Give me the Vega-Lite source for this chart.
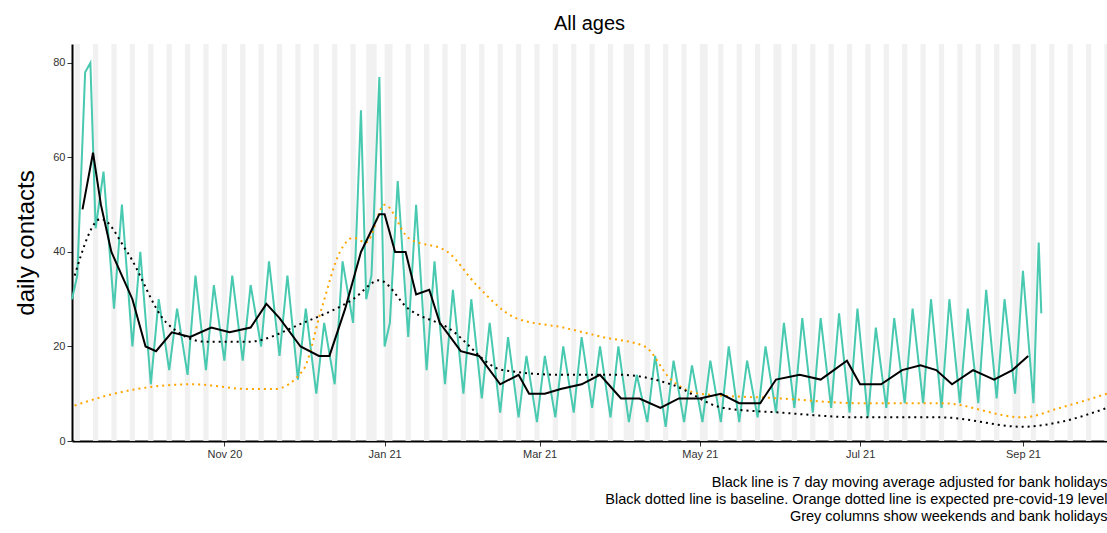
{
"$schema": "https://vega.github.io/schema/vega-lite/v6.json",
"width": 1035, "height": 397,
"autosize": "none",
"padding": {"left": 72, "top": 44, "right": 0, "bottom": 92},
"background": "white",
"title": {"text": "All ages", "fontSize": 20, "fontWeight": "normal", "font": "Liberation Sans", "color": "black", "offset": 10},
"config": {"view": {"stroke": null}, "font": "Liberation Sans"},
"datasets": {
"shade": [
{"s":"2020-09-05","e":"2020-09-07"},{"s":"2020-09-12","e":"2020-09-14"},{"s":"2020-09-19","e":"2020-09-21"},{"s":"2020-09-26","e":"2020-09-28"},
{"s":"2020-10-03","e":"2020-10-05"},{"s":"2020-10-10","e":"2020-10-12"},{"s":"2020-10-17","e":"2020-10-19"},{"s":"2020-10-24","e":"2020-10-26"},{"s":"2020-10-31","e":"2020-11-02"},
{"s":"2020-11-07","e":"2020-11-09"},{"s":"2020-11-14","e":"2020-11-16"},{"s":"2020-11-21","e":"2020-11-23"},{"s":"2020-11-28","e":"2020-11-30"},
{"s":"2020-12-05","e":"2020-12-07"},{"s":"2020-12-12","e":"2020-12-14"},{"s":"2020-12-19","e":"2020-12-21"},{"s":"2020-12-25","e":"2020-12-29"},
{"s":"2021-01-01","e":"2021-01-04"},{"s":"2021-01-09","e":"2021-01-11"},{"s":"2021-01-16","e":"2021-01-18"},{"s":"2021-01-23","e":"2021-01-25"},{"s":"2021-01-30","e":"2021-02-01"},
{"s":"2021-02-06","e":"2021-02-08"},{"s":"2021-02-13","e":"2021-02-15"},{"s":"2021-02-20","e":"2021-02-22"},{"s":"2021-02-27","e":"2021-03-01"},
{"s":"2021-03-06","e":"2021-03-08"},{"s":"2021-03-13","e":"2021-03-15"},{"s":"2021-03-20","e":"2021-03-22"},{"s":"2021-03-27","e":"2021-03-29"},
{"s":"2021-04-02","e":"2021-04-06"},{"s":"2021-04-10","e":"2021-04-12"},{"s":"2021-04-17","e":"2021-04-19"},{"s":"2021-04-24","e":"2021-04-26"},
{"s":"2021-05-01","e":"2021-05-04"},{"s":"2021-05-08","e":"2021-05-10"},{"s":"2021-05-15","e":"2021-05-17"},{"s":"2021-05-22","e":"2021-05-24"},{"s":"2021-05-29","e":"2021-06-01"},
{"s":"2021-06-05","e":"2021-06-07"},{"s":"2021-06-12","e":"2021-06-14"},{"s":"2021-06-19","e":"2021-06-21"},{"s":"2021-06-26","e":"2021-06-28"},
{"s":"2021-07-03","e":"2021-07-05"},{"s":"2021-07-10","e":"2021-07-12"},{"s":"2021-07-17","e":"2021-07-19"},{"s":"2021-07-24","e":"2021-07-26"},{"s":"2021-07-31","e":"2021-08-02"},
{"s":"2021-08-07","e":"2021-08-09"},{"s":"2021-08-14","e":"2021-08-16"},{"s":"2021-08-21","e":"2021-08-23"},{"s":"2021-08-28","e":"2021-08-31"},
{"s":"2021-09-04","e":"2021-09-06"},{"s":"2021-09-11","e":"2021-09-13"},{"s":"2021-09-18","e":"2021-09-20"},{"s":"2021-09-25","e":"2021-09-27"},{"s":"2021-10-02","e":"2021-10-03"}
],
"daily": [
{"d":"2020-09-04","v":30},{"d":"2020-09-06","v":35},{"d":"2020-09-09","v":78},{"d":"2020-09-11","v":80},
{"d":"2020-09-13","v":45},{"d":"2020-09-16","v":57},{"d":"2020-09-20","v":28},{"d":"2020-09-23","v":50},
{"d":"2020-09-27","v":20},{"d":"2020-09-30","v":40},{"d":"2020-10-04","v":12},{"d":"2020-10-07","v":30},
{"d":"2020-10-11","v":15},{"d":"2020-10-14","v":28},{"d":"2020-10-18","v":14},{"d":"2020-10-21","v":35},
{"d":"2020-10-25","v":15},{"d":"2020-10-28","v":33},{"d":"2020-11-01","v":17},{"d":"2020-11-04","v":35},
{"d":"2020-11-08","v":17},{"d":"2020-11-11","v":33},{"d":"2020-11-15","v":20},{"d":"2020-11-18","v":38},
{"d":"2020-11-22","v":18},{"d":"2020-11-25","v":35},{"d":"2020-11-29","v":13},{"d":"2020-12-02","v":28},
{"d":"2020-12-06","v":10},{"d":"2020-12-09","v":25},{"d":"2020-12-13","v":12},{"d":"2020-12-16","v":38},
{"d":"2020-12-20","v":25},{"d":"2020-12-23","v":70},{"d":"2020-12-25","v":30},{"d":"2020-12-27","v":35},
{"d":"2020-12-30","v":77},{"d":"2021-01-01","v":20},{"d":"2021-01-03","v":25},{"d":"2021-01-06","v":55},
{"d":"2021-01-10","v":22},{"d":"2021-01-13","v":50},{"d":"2021-01-17","v":15},{"d":"2021-01-20","v":38},
{"d":"2021-01-24","v":12},{"d":"2021-01-27","v":32},{"d":"2021-01-31","v":10},{"d":"2021-02-03","v":30},
{"d":"2021-02-07","v":9},{"d":"2021-02-10","v":25},{"d":"2021-02-14","v":6},{"d":"2021-02-17","v":22},
{"d":"2021-02-21","v":5},{"d":"2021-02-24","v":18},{"d":"2021-02-28","v":4},{"d":"2021-03-03","v":18},
{"d":"2021-03-07","v":5},{"d":"2021-03-10","v":20},{"d":"2021-03-14","v":6},{"d":"2021-03-17","v":22},
{"d":"2021-03-21","v":7},{"d":"2021-03-24","v":20},{"d":"2021-03-28","v":5},{"d":"2021-03-31","v":20},
{"d":"2021-04-04","v":4},{"d":"2021-04-07","v":14},{"d":"2021-04-11","v":4},{"d":"2021-04-14","v":18},
{"d":"2021-04-18","v":3},{"d":"2021-04-21","v":17},{"d":"2021-04-25","v":4},{"d":"2021-04-28","v":16},
{"d":"2021-05-02","v":4},{"d":"2021-05-05","v":17},{"d":"2021-05-09","v":4},{"d":"2021-05-12","v":20},
{"d":"2021-05-16","v":4},{"d":"2021-05-19","v":17},{"d":"2021-05-23","v":5},{"d":"2021-05-26","v":20},
{"d":"2021-05-30","v":6},{"d":"2021-06-02","v":25},{"d":"2021-06-06","v":7},{"d":"2021-06-09","v":26},
{"d":"2021-06-13","v":6},{"d":"2021-06-16","v":26},{"d":"2021-06-20","v":7},{"d":"2021-06-23","v":27},
{"d":"2021-06-27","v":6},{"d":"2021-06-30","v":28},{"d":"2021-07-04","v":5},{"d":"2021-07-07","v":24},
{"d":"2021-07-11","v":7},{"d":"2021-07-14","v":26},{"d":"2021-07-18","v":8},{"d":"2021-07-21","v":28},
{"d":"2021-07-25","v":8},{"d":"2021-07-28","v":30},{"d":"2021-08-01","v":7},{"d":"2021-08-04","v":30},
{"d":"2021-08-08","v":8},{"d":"2021-08-11","v":28},{"d":"2021-08-15","v":8},{"d":"2021-08-18","v":32},
{"d":"2021-08-22","v":9},{"d":"2021-08-25","v":30},{"d":"2021-08-29","v":10},{"d":"2021-09-01","v":36},
{"d":"2021-09-05","v":8},{"d":"2021-09-07","v":42},{"d":"2021-09-08","v":27}
],
"avg": [
{"d":"2020-09-08","v":49},{"d":"2020-09-12","v":61},{"d":"2020-09-15","v":50},{"d":"2020-09-19","v":40},
{"d":"2020-09-23","v":35},{"d":"2020-09-27","v":30},{"d":"2020-10-02","v":20},{"d":"2020-10-06","v":19},
{"d":"2020-10-12","v":23},{"d":"2020-10-19","v":22},{"d":"2020-10-27","v":24},{"d":"2020-11-03","v":23},
{"d":"2020-11-11","v":24},{"d":"2020-11-17","v":29},{"d":"2020-11-22","v":26},{"d":"2020-11-30","v":20},
{"d":"2020-12-07","v":18},{"d":"2020-12-11","v":18},{"d":"2020-12-17","v":28},{"d":"2020-12-23","v":40},
{"d":"2020-12-30","v":48},{"d":"2021-01-01","v":48},{"d":"2021-01-05","v":40},{"d":"2021-01-09","v":40},
{"d":"2021-01-13","v":31},{"d":"2021-01-18","v":32},{"d":"2021-01-22","v":25},{"d":"2021-01-30","v":19},
{"d":"2021-02-06","v":18},{"d":"2021-02-14","v":12},{"d":"2021-02-21","v":14},{"d":"2021-02-25","v":10},
{"d":"2021-03-03","v":10},{"d":"2021-03-09","v":11},{"d":"2021-03-17","v":12},{"d":"2021-03-24","v":14},
{"d":"2021-04-01","v":9},{"d":"2021-04-08","v":9},{"d":"2021-04-16","v":7},{"d":"2021-04-23","v":9},
{"d":"2021-05-01","v":9},{"d":"2021-05-09","v":10},{"d":"2021-05-16","v":8},{"d":"2021-05-24","v":8},
{"d":"2021-05-30","v":13},{"d":"2021-06-08","v":14},{"d":"2021-06-16","v":13},{"d":"2021-06-26","v":17},
{"d":"2021-07-01","v":12},{"d":"2021-07-09","v":12},{"d":"2021-07-17","v":15},{"d":"2021-07-24","v":16},
{"d":"2021-07-30","v":15},{"d":"2021-08-05","v":12},{"d":"2021-08-13","v":15},{"d":"2021-08-21","v":13},
{"d":"2021-08-28","v":15},{"d":"2021-09-03","v":18}
],
"base": [
{"d":"2020-09-05","v":35},{"d":"2020-09-15","v":47},{"d":"2020-09-25","v":40},{"d":"2020-10-10","v":25},
{"d":"2020-10-25","v":21},{"d":"2020-11-10","v":21},{"d":"2020-12-01","v":25},{"d":"2020-12-20","v":30},
{"d":"2020-12-30","v":34},{"d":"2021-01-10","v":28},{"d":"2021-01-25","v":24},{"d":"2021-02-15","v":15},
{"d":"2021-03-10","v":14},{"d":"2021-04-01","v":14},{"d":"2021-04-20","v":12},{"d":"2021-05-10","v":7},
{"d":"2021-06-01","v":6},{"d":"2021-07-01","v":5},{"d":"2021-08-01","v":5},{"d":"2021-09-01","v":3},
{"d":"2021-09-15","v":4},{"d":"2021-10-03","v":7}
],
"pre": [
{"d":"2020-09-05","v":7.5},{"d":"2020-09-20","v":10},{"d":"2020-10-20","v":12},{"d":"2020-11-10","v":11},
{"d":"2020-11-20","v":11},{"d":"2020-12-01","v":15},{"d":"2020-12-08","v":28},{"d":"2020-12-15","v":40},
{"d":"2020-12-20","v":43},{"d":"2020-12-25","v":42},{"d":"2021-01-01","v":50},{"d":"2021-01-10","v":43},
{"d":"2021-01-25","v":40},{"d":"2021-02-05","v":33},{"d":"2021-02-20","v":26},{"d":"2021-03-10","v":24},
{"d":"2021-03-25","v":22},{"d":"2021-04-10","v":20},{"d":"2021-04-20","v":13},{"d":"2021-05-01","v":10},
{"d":"2021-06-01","v":9},{"d":"2021-07-01","v":8},{"d":"2021-08-01","v":8},{"d":"2021-09-01","v":5},
{"d":"2021-09-15","v":7},{"d":"2021-10-03","v":10}
]
},
"layer": [
{"data": {"name": "shade"}, "mark": {"type": "rect", "color": "#f0f0f0", "opacity": 0.9},
 "encoding": {"x": {"field": "s", "type": "temporal"}, "x2": {"field": "e"}}},
{"data": {"name": "daily"}, "mark": {"type": "line", "color": "#48c9b0", "strokeWidth": 2},
 "encoding": {"x": {"field": "d", "type": "temporal"}, "y": {"field": "v", "type": "quantitative"}}},
{"data": {"name": "pre"}, "mark": {"type": "line", "color": "orange", "strokeWidth": 2, "strokeDash": [2, 4], "interpolate": "monotone"},
 "encoding": {"x": {"field": "d", "type": "temporal"}, "y": {"field": "v", "type": "quantitative"}}},
{"data": {"name": "base"}, "mark": {"type": "line", "color": "black", "strokeWidth": 2, "strokeDash": [2, 4], "interpolate": "monotone"},
 "encoding": {"x": {"field": "d", "type": "temporal"}, "y": {"field": "v", "type": "quantitative"}}},
{"data": {"name": "avg"}, "mark": {"type": "line", "color": "black", "strokeWidth": 2},
 "encoding": {
  "x": {"field": "d", "type": "temporal",
   "scale": {"domain": ["2020-09-04", "2021-10-03"]},
   "axis": {"values": ["2020-11-01", "2021-01-01", "2021-03-01", "2021-05-01", "2021-07-01", "2021-09-01"],
    "format": "%b %y", "grid": false, "domainColor": "black", "domainWidth": 2, "tickColor": "#333", "labelColor": "#333", "labelFontSize": 11,
    "title": ["Black line is 7 day moving average adjusted for bank holidays", "Black dotted line is baseline. Orange dotted line is expected pre-covid-19 level", "Grey columns show weekends and bank holidays"],
    "titleAnchor": "end", "titleAlign": "right", "titleFontSize": 14.5, "titleFontWeight": "normal", "titleColor": "black", "titlePadding": 16, "titleLineHeight": 17}},
  "y": {"field": "v", "type": "quantitative", "scale": {"domain": [0, 84], "nice": false},
   "axis": {"values": [0, 20, 40, 60, 80], "grid": false, "domainColor": "black", "domainWidth": 2, "tickColor": "#333", "labelColor": "#333", "labelFontSize": 11,
    "title": "daily contacts", "titleFontSize": 24, "titleFontWeight": "normal", "titleColor": "black", "titlePadding": 14}}
 }}
]
}
